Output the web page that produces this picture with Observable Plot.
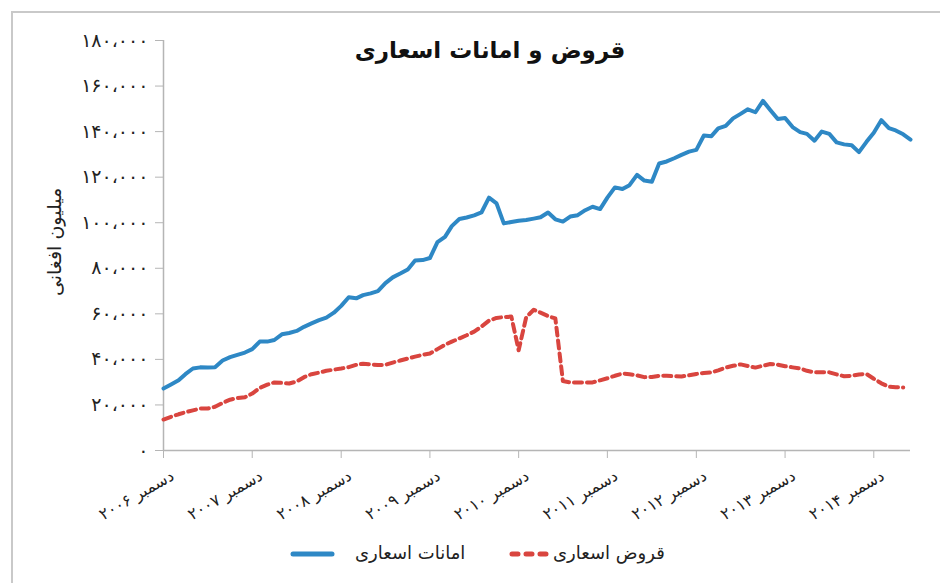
<!DOCTYPE html>
<html>
<head>
<meta charset="utf-8">
<script src="https://cdn.jsdelivr.net/npm/d3@7"></script>
<script src="https://cdn.jsdelivr.net/npm/@observablehq/plot@0.6"></script>
<style>
  body { margin: 0; background: #fff; }
  #wrap { position: relative; width: 940px; height: 583px; overflow: hidden; background: #fff; font-family: "DejaVu Sans", sans-serif; }
  #frame { position: absolute; left: 11px; top: 11px; width: 940px; height: 600px; border-left: 2px solid #c9c9c9; border-top: 2px solid #c9c9c9; }
  #title { position: absolute; left: 290px; width: 400px; top: 37px; text-align: center; font-size: 23px; font-weight: bold; color: #111; direction: rtl; }
  #ytitle { position: absolute; left: 54px; top: 242px; transform: translate(-50%, -50%) rotate(-90deg); font-size: 19px; color: #222; white-space: nowrap; direction: rtl; }
  #chart { position: absolute; left: 0; top: 0; }
  .leg { position: absolute; top: 542px; font-size: 18px; color: #222; direction: rtl; white-space: nowrap; }
  .sw { position: absolute; top: 547px; }
</style>
</head>
<body>
<div id="wrap">
  <div id="frame"></div>
  <div id="chart"></div>
  <div id="title"></div>
  <div id="ytitle"></div>
  <svg class="sw" style="left:288px" width="50" height="14"><line x1="5" y1="7" x2="44" y2="7" stroke="#2e88c5" stroke-width="5" stroke-linecap="round"/></svg>
  <div class="leg" id="leg1" style="left:355px"></div>
  <svg class="sw" style="left:506px" width="50" height="14"><line x1="6" y1="7" x2="44" y2="7" stroke="#d9453f" stroke-width="5" stroke-linecap="round" stroke-dasharray="6 8"/></svg>
  <div class="leg" id="leg2" style="left:553px"></div>
</div>
<script>
// ---- data (values in units of 1,000 million Afghani) ----
const titleText = "قروض و امانات اسعاری";
const yTitle = "میلیون افغانی";
const seriesNames = ["امانات اسعاری", "قروض اسعاری"];
const startYear = 2006, startMonth = 11; // December 2006, monthly data

const deposits = [
  27.2, 29.0, 30.8, 33.5, 36.0, 36.5, 36.4, 36.6, 39.5, 41.0, 42.0, 43.0,
  44.5, 47.8, 47.8, 48.5, 51.0, 51.6, 52.5, 54.3, 55.8, 57.2, 58.3, 60.5,
  63.5, 67.3, 66.8, 68.2, 69.0, 70.0, 73.5, 76.0, 77.7, 79.5, 83.4, 83.6,
  84.5, 91.5, 93.8, 98.5, 101.6, 102.3, 103.2, 104.5, 111.0, 108.5, 99.7, 100.3,
  100.9, 101.2, 101.8, 102.4, 104.5, 101.5, 100.5, 102.7, 103.3, 105.5, 107.0, 106.0,
  111.0, 115.5, 114.8, 116.5, 121.0, 118.5, 118.0, 126.0, 126.9, 128.3, 129.8, 131.2,
  132.0, 138.3, 138.0, 141.4, 142.5, 145.8, 147.8, 149.8, 148.5, 153.5, 149.5, 145.5,
  146.0, 142.0, 139.8, 139.0, 136.0, 140.0, 139.0, 135.3, 134.4, 134.0, 131.0, 135.5,
  139.5, 145.0, 141.5, 140.5, 138.8, 136.5
];
const loans = [
  13.6, 14.8, 15.9, 16.8, 17.6, 18.4, 18.4, 19.2, 20.9, 22.3, 23.0, 23.4,
  25.0, 27.5, 28.9, 29.9, 29.7, 29.4, 30.3, 32.2, 33.5, 34.2, 35.0, 35.5,
  36.0, 36.6, 37.6, 38.1, 37.8, 37.5, 37.6, 38.6, 39.5, 40.4, 41.2, 42.0,
  42.6, 44.5, 46.4, 47.8, 49.2, 50.6, 52.2, 54.4, 57.0, 58.2, 58.6, 58.8,
  44.0, 58.5, 61.8, 60.5, 59.0, 58.0, 30.5, 29.9, 29.9, 29.9, 29.9, 30.8,
  31.7, 32.8, 33.8, 33.5, 33.0, 32.2, 32.3, 32.8, 32.8, 32.6, 32.5, 33.0,
  33.6, 34.0, 34.3, 35.2, 36.4, 37.2, 37.8, 37.1, 36.4, 37.2, 38.0, 37.7,
  37.0, 36.5, 36.0, 35.0, 34.3, 34.3, 34.3, 33.4, 32.6, 32.8, 33.4, 33.6,
  31.5, 29.5, 28.0, 27.8, 27.7
];
const tickYears = [2006, 2007, 2008, 2009, 2010, 2011, 2012, 2013, 2014];
const tickLabels = ["دسمبر ۲۰۰۶", "دسمبر ۲۰۰۷", "دسمبر ۲۰۰۸", "دسمبر ۲۰۰۹", "دسمبر ۲۰۱۰",
                    "دسمبر ۲۰۱۱", "دسمبر ۲۰۱۲", "دسمبر ۲۰۱۳", "دسمبر ۲۰۱۴"];
const yTicks = [0, 20000, 40000, 60000, 80000, 100000, 120000, 140000, 160000, 180000];

// ---- build ----
const monthDate = i => new Date(startYear, startMonth + i, 1);
const depRows = deposits.map((v, i) => ({date: monthDate(i), value: v * 1000}));
const loanRows = loans.map((v, i) => ({date: monthDate(i), value: v * 1000}));
const xTicks = tickYears.map(y => new Date(y, 11, 1));
const labelOf = new Map(xTicks.map((d, i) => [+d, tickLabels[i]]));
const faDigits = "۰۱۲۳۴۵۶۷۸۹";
const toFa = n => d3.format(",")(n).replace(/\d/g, c => faDigits[+c]).replace(/,/g, "،");

document.getElementById("title").textContent = titleText;
document.getElementById("ytitle").textContent = yTitle;
document.getElementById("leg1").textContent = seriesNames[0];
document.getElementById("leg2").textContent = seriesNames[1];

const chart = Plot.plot({
  width: 940,
  height: 530,
  marginTop: 40,
  marginLeft: 163,
  marginRight: 30,
  marginBottom: 80,
  style: {fontFamily: "DejaVu Sans, sans-serif", background: "transparent", overflow: "visible"},
  x: {type: "time", domain: [monthDate(0), monthDate(deposits.length - 1)]},
  y: {domain: [0, 180000]},
  marks: [
    Plot.ruleY([0], {stroke: "#b5b5b5", strokeWidth: 1.5}),
    Plot.ruleX([monthDate(0)], {stroke: "#b5b5b5", strokeWidth: 1.5}),
    Plot.axisY({ticks: yTicks, tickFormat: toFa, tickSize: 8, tickPadding: 7, stroke: "#b5b5b5", fill: "#222", fontSize: 19, label: null}),
    // x tick marks (no labels)
    Plot.axisX({ticks: xTicks, tickFormat: () => "", tickSize: 8, stroke: "#b5b5b5", label: null}),
    // x tick labels (rotated, offset)
    Plot.axisX({ticks: xTicks, tickFormat: d => labelOf.get(+d), tickSize: 0, tickPadding: 14, tickRotate: -30, dx: 9, dy: 10, fill: "#222", fontSize: 16, label: null}),
    Plot.line(loanRows, {x: "date", y: "value", stroke: "#d9453f", strokeWidth: 4, strokeDasharray: "8 5", strokeLinecap: "round", strokeLinejoin: "round"}),
    Plot.line(depRows, {x: "date", y: "value", stroke: "#2e88c5", strokeWidth: 4, strokeLinejoin: "round"})
  ]
});
document.getElementById("chart").appendChild(chart);
</script>
</body>
</html>
